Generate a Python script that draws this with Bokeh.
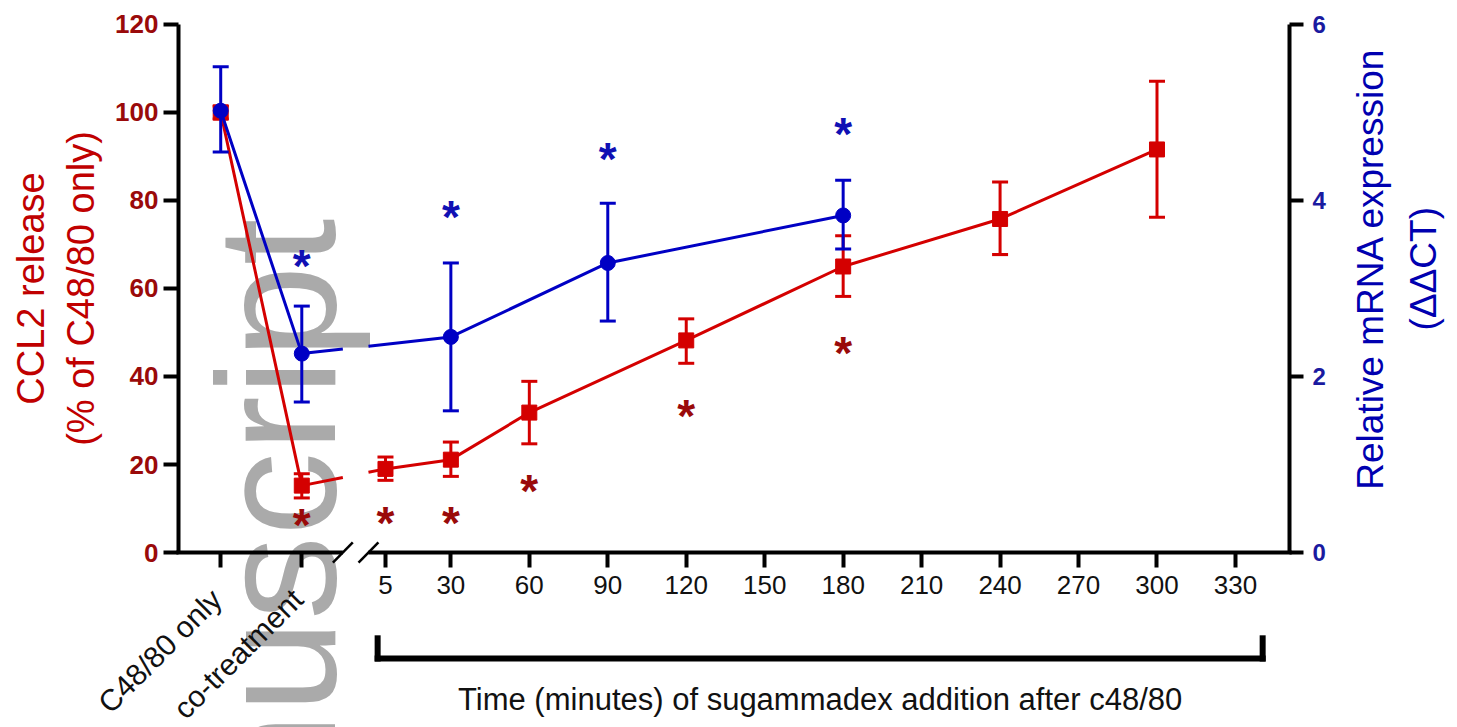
import math
import numpy as np
from bokeh.plotting import figure
from bokeh.models import (Range1d, LinearAxis, FixedTicker, ColumnDataSource, Label, Grid)
from bokeh.core.properties import value
from bokeh.embed import file_html
from bokeh.resources import INLINE

# ---------------- data ----------------
categories = ["C48/80 only", "co-treatment"]
category_pos = [-58, -27]          # slots to the left of the axis break
minute_ticks = [5, 30, 60, 90, 120, 150, 180, 210, 240, 270, 300, 330]
left_ticks = [0, 20, 40, 60, 80, 100, 120]
right_ticks = [0, 2, 4, 6]

# CCL2 release (% of C48/80 only) - left axis
red_keys = ["C48/80 only", "co-treatment", "5", "30", "60", "120", "180", "240", "300"]
red_mean = [100.0, 15.2, 19.0, 21.1, 31.8, 48.2, 65.0, 75.8, 91.6]
red_lower = [98.5, 12.4, 16.4, 17.3, 24.7, 43.0, 58.2, 67.7, 76.2]
red_upper = [101.5, 17.9, 21.7, 25.1, 38.9, 53.1, 72.0, 84.2, 107.1]

# Relative mRNA expression (ddCT) - right axis
blue_keys = ["C48/80 only", "co-treatment", "30", "90", "180"]
blue_mean = [5.02, 2.26, 2.45, 3.29, 3.83]
blue_lower = [4.55, 1.71, 1.61, 2.63, 3.45]
blue_upper = [5.52, 2.80, 3.29, 3.97, 4.23]

# significance asterisks
red_sig_keys = ["co-treatment", "5", "30", "60", "120", "180"]
red_sig_y = [7.9, 8.2, 8.4, 15.6, 32.7, 47.0]
blue_sig_keys = ["co-treatment", "30", "90", "180"]
blue_sig_y = [3.34, 3.89, 4.55, 4.83]

# ---------------- styling / layout ----------------
RED = "#d40000"
DARKRED = "#9a0a0a"
RED_TITLE = "#c00000"
BLUE = "#0000c4"
DARKBLUE = "#1a1aa0"
BLUE_TITLE = "#0000b0"
FONT = "Liberation Sans"
X_RANGE = (-142.2, 414.9)     # the frame spans the whole canvas
Y_RANGE = (-39.77, 125.45)
RIGHT_SCALE = 20.0            # 0-6 right axis shares the 0-120 extent
X_LEFT, X_RIGHT = -74.16, 350.7
BREAK_X = (-11.3, -1.5)


def pos(key):
    if key in categories:
        return category_pos[categories.index(key)]
    return float(key)


def split_at_break(xs, ys):
    xs = np.asarray(xs, float)
    ys = np.asarray(ys, float)
    i = int(np.searchsorted(xs, BREAK_X[0]))
    y0 = float(np.interp(BREAK_X[0], xs, ys))
    y1 = float(np.interp(BREAK_X[1], xs, ys))
    left = (list(xs[:i]) + [BREAK_X[0]], list(ys[:i]) + [y0])
    right = ([BREAK_X[1]] + list(xs[i:]), [y1] + list(ys[i:]))
    return left, right


p = figure(width=1457, height=727, x_range=Range1d(*X_RANGE), y_range=Range1d(*Y_RANGE),
           x_axis_location=None, y_axis_location=None,
           output_backend="svg", toolbar_location=None,
           min_border=0, min_border_left=0, min_border_right=0,
           min_border_top=0, min_border_bottom=0)
p.extra_y_ranges = {"right": Range1d(Y_RANGE[0] / RIGHT_SCALE, Y_RANGE[1] / RIGHT_SCALE)}
p.outline_line_color = None
p.background_fill_color = "white"
p.border_fill_color = "white"
for r in p.center:
    if isinstance(r, Grid):
        r.visible = False

# ---- axes ----
xa = LinearAxis(fixed_location=0, ticker=FixedTicker(ticks=category_pos + minute_ticks))
xa.major_label_overrides = {c: "" for c in category_pos}
xa.axis_line_color = None
xa.major_tick_out = 15
xa.major_tick_in = 0
xa.minor_tick_out = 0
xa.minor_tick_in = 0
xa.major_tick_line_width = 4
xa.major_tick_line_color = "black"
xa.major_label_text_font = FONT
xa.major_label_text_font_size = "26px"
xa.major_label_text_color = "#111111"
xa.major_label_standoff = 8
p.add_layout(xa, "below")

ya = LinearAxis(fixed_location=X_LEFT, bounds=(0, 120), ticker=FixedTicker(ticks=left_ticks))
ya.axis_line_width = 4
ya.axis_line_color = "black"
ya.major_tick_line_width = 4
ya.major_tick_out = 15
ya.major_tick_in = 0
ya.minor_tick_out = 0
ya.minor_tick_in = 0
ya.major_label_text_font = FONT
ya.major_label_text_font_style = "bold"
ya.major_label_text_font_size = "26px"
ya.major_label_text_color = DARKRED
ya.major_label_standoff = 5
ya.axis_label = "CCL2 release\n(% of C48/80 only)"
ya.axis_label_text_font = FONT
ya.axis_label_text_font_size = "38px"
ya.axis_label_text_font_style = "normal"
ya.axis_label_text_color = RED_TITLE
ya.axis_label_standoff = 10
p.add_layout(ya, "left")

ra = LinearAxis(fixed_location=X_RIGHT, y_range_name="right", bounds=(0, 6),
                ticker=FixedTicker(ticks=right_ticks))
ra.axis_line_width = 4
ra.axis_line_color = "black"
ra.major_tick_line_width = 4
ra.major_tick_out = 14
ra.major_tick_in = 0
ra.minor_tick_out = 0
ra.minor_tick_in = 0
ra.major_label_text_font = FONT
ra.major_label_text_font_style = "bold"
ra.major_label_text_font_size = "24px"
ra.major_label_text_color = DARKBLUE
ra.major_label_standoff = 9
p.add_layout(ra, "right")

# ---- watermark (first glyph, so it lies under the data) ----
p.text(x=[-36.3], y=[75.9], text=["Manuscript"], angle=math.pi / 2,
       text_align="right", text_baseline="alphabetic",
       text_font=value(FONT), text_font_size="168px", text_color="#aaaaaa")

# ---- red series ----
rx = [pos(k) for k in red_keys]
(lx, ly), (rx2, ry2) = split_at_break(rx, red_mean)
p.line(lx, ly, line_color=RED, line_width=3)
p.line(rx2, ry2, line_color=RED, line_width=3)
red_src = ColumnDataSource(dict(x=rx, y=red_mean, lower=red_lower, upper=red_upper))
p.segment(x0="x", y0="lower", x1="x", y1="upper", source=red_src, line_color=RED, line_width=3)
p.scatter("x", "upper", source=red_src, marker="dash", size=16, line_color=RED, line_width=3)
p.scatter("x", "lower", source=red_src, marker="dash", size=16, line_color=RED, line_width=3)
p.scatter("x", "y", source=red_src, marker="square", size=15, fill_color=RED, line_color=RED)
p.text([pos(k) for k in red_sig_keys], red_sig_y, text=["*"] * len(red_sig_y),
       text_font=value(FONT), text_font_style="bold", text_font_size="46px",
       text_align="center", text_baseline="middle", text_color=DARKRED, y_offset=7)

# ---- blue series ----
bx = [pos(k) for k in blue_keys]
(lx, ly), (rx2, ry2) = split_at_break(bx, blue_mean)
p.line(lx, ly, line_color=BLUE, line_width=3, y_range_name="right")
p.line(rx2, ry2, line_color=BLUE, line_width=3, y_range_name="right")
blue_src = ColumnDataSource(dict(x=bx, y=blue_mean, lower=blue_lower, upper=blue_upper))
p.segment(x0="x", y0="lower", x1="x", y1="upper", source=blue_src, line_color=BLUE,
          line_width=3, y_range_name="right")
p.scatter("x", "upper", source=blue_src, marker="dash", size=16, line_color=BLUE,
          line_width=3, y_range_name="right")
p.scatter("x", "lower", source=blue_src, marker="dash", size=16, line_color=BLUE,
          line_width=3, y_range_name="right")
p.scatter("x", "y", source=blue_src, marker="circle", size=15, fill_color=BLUE,
          line_color=BLUE, y_range_name="right")
p.text([pos(k) for k in blue_sig_keys], blue_sig_y, text=["*"] * len(blue_sig_y),
       text_font=value(FONT), text_font_style="bold", text_font_size="46px",
       text_align="center", text_baseline="middle", text_color="#1010b4",
       y_range_name="right", y_offset=7)

# ---- x axis line with break marks ----
p.segment(x0=[X_LEFT - 0.8, BREAK_X[1]], y0=[0, 0], x1=[BREAK_X[0], X_RIGHT + 0.8], y1=[0, 0],
          line_color="black", line_width=4)
p.segment(x0=[b - 3.8 for b in BREAK_X], y0=[-2.3, -2.3], x1=[b + 3.8 for b in BREAK_X],
          y1=[2.3, 2.3], line_color="black", line_width=2.5)

# ---- bracket under the minute ticks ----
BR_X = (2.0, 340.4)
BR_Y, BR_TOP = -24.1, -19.5
p.segment(x0=[BR_X[0], BR_X[0], BR_X[1]], y0=[BR_Y, BR_Y, BR_Y],
          x1=[BR_X[1], BR_X[0], BR_X[1]], y1=[BR_Y, BR_TOP, BR_TOP],
          line_color="black", line_width=6, line_cap="square")
p.add_layout(Label(x=(BR_X[0] + BR_X[1]) / 2, y=-33.4,
                   text="Time (minutes) of sugammadex addition after c48/80",
                   text_align="center", text_baseline="middle", text_font=FONT,
                   text_font_size="31px", text_color="#111111"))

# ---- rotated category labels ----
for c, cp in zip(categories, category_pos):
    p.add_layout(Label(x=cp - 1.6, y=-9.5, text=c, angle=math.pi / 4,
                       text_align="right", text_baseline="middle", text_font=FONT,
                       text_font_size="30px", text_color="#111111"))

# ---- right axis title ----
for txt, xx in (("Relative mRNA expression", 381.7), ("(\u0394\u0394CT)", 401.9)):
    p.add_layout(Label(x=xx, y=64.5, text=txt, angle=math.pi / 2,
                       text_align="center", text_baseline="middle", text_font=FONT,
                       text_font_size="37px", text_color=BLUE_TITLE))

open("out.html", "w").write(file_html(p, INLINE))
